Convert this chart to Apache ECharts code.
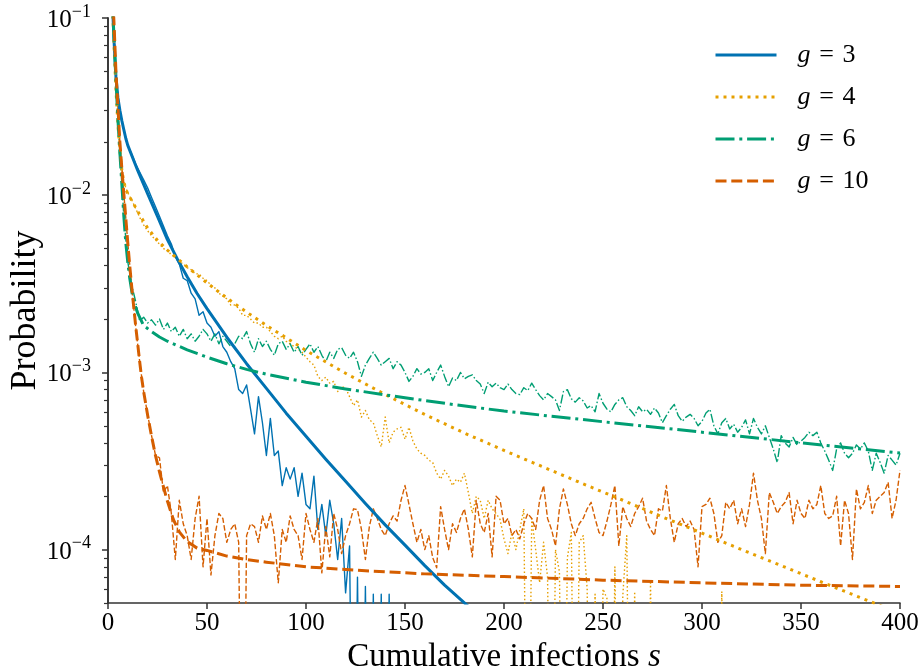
<!DOCTYPE html>
<html><head><meta charset="utf-8">
<script src="https://cdn.jsdelivr.net/npm/echarts@6/dist/echarts.min.js"></script>
<style>html,body{margin:0;padding:0;background:#fff}#chart{width:923px;height:671px}</style>
</head><body><div id="chart"></div>
<script>
// ---------- data ----------
// simulated (noisy) series are sampled at s = 2, 4, 6, ... (zero counts stored as 1e-6, drawn below the axis)
const simStart = 2, simStep = 2;
const g3Sim = [0.141,0.045,0.030,0.0234,0.019, 0.017,0.015,0.0135,0.0122,0.011, 0.0097,0.0086,0.0076,0.0067,0.0059,
 0.0053,0.0045,0.0041,0.0034,0.0033, 0.0028,0.0026,0.0021,0.0022,0.0019, 0.0018,0.0016,0.0017,0.0014,0.0013,
 0.00115,0.00105,8.0e-4,7.6e-4,8.5e-4, 6.2e-4,4.5e-4,7.3e-4,5.2e-4,3.4e-4, 5.5e-4,3.4e-4,3.6e-4,2.3e-4,2.9e-4,
 2.5e-4,2.9e-4,2.0e-4,2.7e-4,1.8e-4, 1.7e-4,2.6e-4,1.3e-4,1.8e-4,1.2e-4, 1.9e-4,1.4e-4,8.8e-5,1.5e-4,5.7e-5,
 1.05e-4,1e-6,7.0e-5,1e-6,6.2e-5, 1e-6,5.6e-5,1e-6,5.6e-5,1e-6, 5.6e-5,1e-6];
const g4Sim = [0.141,0.04,0.0174,0.0118,0.0103,0.0094,0.0084,0.0075,0.0068,0.0063,
 0.0059,0.0056,0.0053,0.0050,0.0049,0.0046,0.0045,0.0042,0.0041,0.0039,
 0.0038,0.0036,0.0036,0.0034,0.0033,0.0031,0.0030,0.0028,0.0027,0.0026,
 0.0024,0.0024,0.0023,0.0021,0.0021,0.0020,0.0019,0.0019,0.0018,0.0018,
 0.0017,0.0016,0.00155,0.0016,0.0015,0.00145,0.0014,0.00135,0.0013,0.00122,
 1.15e-3,1.1e-3,9.5e-4,9.0e-4,9.4e-4,8.7e-4,8.9e-4,7.8e-4,8.3e-4,8.2e-4,
 7.3e-4,6.5e-4,7.0e-4,5.6e-4,6.1e-4,5.4e-4,5.2e-4,4.4e-4,3.8e-4,5.6e-4,
 4.0e-4,4.6e-4,4.8e-4,4.9e-4,4.2e-4,4.9e-4,4.1e-4,3.7e-4,3.5e-4,3.4e-4,
 3.2e-4,3.1e-4,2.7e-4,2.5e-4,2.8e-4,2.6e-4,2.3e-4,2.5e-4,2.4e-4,2.7e-4,
 2.1e-4,1.6e-4,2.0e-4,1.9e-4,1.5e-4,1.9e-4,1.7e-4,1.6e-4,1.48e-4,1.15e-4,
 9.5e-5,1.25e-4,1.0e-4,1.3e-4,1.7e-4, 1e-6,1.5e-4,1.0e-4,6.5e-5,1.1e-4,
 7.0e-5,1e-6,1.0e-4,7.5e-5,1e-6, 9.0e-5,1.25e-4,1e-6,1.1e-4,1.2e-4,
 6.0e-5,1e-6,5.6e-5,1e-6,6.0e-5, 5.3e-5,1e-6,8.0e-5,1e-6,5.5e-5,
 1.2e-4,1e-6,5.8e-5,1e-6,1e-6, 1e-6,6.5e-5,1e-6,1e-6,1e-6,
 1e-6,1e-6,1e-6,1e-6,1e-6,1e-6,1e-6,1e-6,1e-6,1e-6,1e-6,1e-6,1e-6,1e-6, 5.8e-5,1e-6];
const g6Sim = [0.141,0.045,0.0174,0.0076,0.0042,
 3.1e-3,2.5e-3,1.95e-3,2.05e-3,1.9e-3,1.98e-3,1.85e-3,2.0e-3,1.75e-3,1.9e-3,
 1.7e-3,1.8e-3,1.6e-3,1.75e-3,1.55e-3,1.65e-3,1.5e-3,1.6e-3,1.75e-3,1.65e-3,
 1.5e-3,1.65e-3,1.45e-3,1.6e-3,1.5e-3,1.4e-3,1.45e-3,1.6e-3,1.55e-3,1.7e-3,
 1.45e-3,1.3e-3,1.55e-3,1.4e-3,1.5e-3,1.35e-3,1.25e-3,1.45e-3,1.5e-3,1.35e-3,
 1.45e-3,1.3e-3,1.4e-3,1.25e-3,1.35e-3,
 1.45e-3,1.3e-3,1.4e-3,1.25e-3,1.15e-3,1.3e-3,1.2e-3,1.35e-3,1.38e-3,1.25e-3,
 1.2e-3,1.3e-3,1.15e-3,9.5e-4,1.1e-3,1.2e-3,1.3e-3,1.2e-3,1.1e-3,1.15e-3,
 1.2e-3,1.05e-3,1.15e-3,1.1e-3,1.0e-3,8.9e-4,9.5e-4,1.05e-3,9.8e-4,1.0e-3,
 1.05e-3,9.0e-4,1.0e-3,1.1e-3,9.5e-4,8.3e-4,9.3e-4,9.0e-4,1.0e-3,9.2e-4,
 9.5e-4,9.7e-4,9.0e-4,8.6e-4,7.6e-4,8.8e-4,8.3e-4,8.7e-4,8.2e-4,8.0e-4,
 8.6e-4,8.0e-4,7.6e-4,7.5e-4,8.2e-4,7.9e-4,8.7e-4,8.0e-4,7.4e-4,7.0e-4,
 7.6e-4,7.3e-4,7.0e-4,6.1e-4,7.8e-4,8.0e-4,7.1e-4,6.8e-4,7.2e-4,6.9e-4,
 6.3e-4,6.5e-4,6.0e-4,7.6e-4,6.7e-4,6.2e-4,6.0e-4,6.6e-4,7.0e-4,7.2e-4,
 6.4e-4,6.1e-4,5.7e-4,6.4e-4,6.0e-4,6.2e-4,5.8e-4,6.3e-4,5.9e-4,5.2e-4,
 5.7e-4,6.2e-4,6.6e-4,5.7e-4,5.3e-4,5.6e-4,5.8e-4,5.5e-4,5.0e-4,5.3e-4,
 5.9e-4,6.2e-4,5.0e-4,4.5e-4,5.2e-4,5.5e-4,4.8e-4,5.1e-4,4.6e-4,4.9e-4,
 5.4e-4,4.5e-4,5.5e-4,4.9e-4,4.5e-4,5.0e-4,4.3e-4,3.7e-4,3.1e-4,4.4e-4,
 4.0e-4,3.8e-4,4.3e-4,3.9e-4,4.1e-4,4.3e-4,4.6e-4,4.4e-4,4.6e-4,4.0e-4,
 3.6e-4,3.2e-4,2.8e-4,3.7e-4,4.0e-4,3.5e-4,3.3e-4,3.5e-4,3.9e-4,3.7e-4,
 4.0e-4,3.6e-4,2.8e-4,3.5e-4,3.1e-4,2.7e-4,3.4e-4,3.2e-4,3.0e-4,3.5e-4];
const g10Sim = [0.158,0.05,0.02,0.0102,0.0054,0.0030,0.0018,0.00115,7.8e-4,5.8e-4,4.4e-4,3.4e-4,
 3.3e-4,2.1e-4,2.3e-4,1.6e-4,8.8e-5,1.9e-4,1.4e-4,1.2e-4,8.8e-5,1.5e-4,
 2.0e-4,8.0e-5,1.5e-4,7.2e-5,1.2e-4,1.6e-4,1.5e-4,1.1e-4,1.3e-4,1.4e-4,
 1.1e-4,1e-6,1.2e-4,1.4e-4,1.35e-4,1.1e-4,1.55e-4,1.3e-4,1.6e-4,1.2e-4,
 6.5e-5,1.3e-4,1.1e-4,1.55e-4,1.3e-4,1.2e-4,8.8e-5,1.6e-4,
 1.3e-4,1.1e-4,1.5e-4,7.4e-5,1.35e-4,9.1e-5,1.6e-4,1.3e-4,9.5e-5,1.2e-4,
 1.4e-4,1.7e-4,1.68e-4,1.3e-4,8.8e-5,1.35e-4,1.7e-4,1.5e-4,1.3e-4,1.2e-4,
 1.4e-4,1.55e-4,1.45e-4,1.9e-4,2.3e-4,1.8e-4,1.4e-4,1.1e-4,1.3e-4,1.0e-4,
 1.2e-4,9.0e-5,7.9e-5,1.75e-4,1.3e-4,1.0e-4,1.4e-4,1.25e-4,1.5e-4,1.7e-4,
 1.3e-4,9.1e-5,1.9e-4,1.4e-4,1.25e-4,1.6e-4,9.1e-5,2.0e-4,1.9e-4,1.4e-4,
 1.5e-4,1.2e-4,1.3e-4,1.15e-4,1.4e-4,1.6e-4,1.5e-4,1.3e-4,1.9e-4,2.3e-4,
 1.5e-4,1.3e-4,1.05e-4,1.7e-4,2.2e-4,1.8e-4,1.4e-4,1.2e-4,1.4e-4,1.5e-4,
 1.7e-4,1.85e-4,1.5e-4,1.25e-4,1.2e-4,1.45e-4,1.8e-4,2.3e-4,1.05e-4,1.75e-4,
 1.5e-4,1.35e-4,1.6e-4,1.75e-4,1.95e-4,1.45e-4,1.3e-4,1.2e-4,1.7e-4,1.65e-4,
 2.3e-4,1.5e-4,1.1e-4,1.4e-4,1.5e-4,1.35e-4,1.45e-4,1.3e-4,8.0e-5,1.75e-4,
 1.8e-4,1.95e-4,1.6e-4,1.1e-4,1.2e-4,1.85e-4,1.7e-4,1.9e-4,1.4e-4,1.7e-4,
 1.35e-4,1.8e-4,2.7e-4,1.9e-4,1.5e-4,9.5e-5,2.1e-4,1.85e-4,1.6e-4,1.75e-4,
 1.85e-4,2.1e-4,1.4e-4,1.9e-4,1.6e-4,1.5e-4,1.9e-4,1.7e-4,1.8e-4,2.3e-4,
 1.6e-4,1.5e-4,1.55e-4,2.0e-4,1.05e-4,1.9e-4,1.6e-4,8.8e-5,2.2e-4,1.7e-4,
 1.85e-4,2.3e-4,1.6e-4,1.9e-4,2.0e-4,2.1e-4,2.4e-4,1.5e-4,1.9e-4,2.8e-4];

// theory curves
const g3TheoryS = [2,3,4,5,6,7,8,9,10,15,20,25,30,35,40,45,50,60,70,80,90,100,110,120,130,140,150,160,170,180,190];
const g3Theory  = [0.141,0.0759,0.0468,0.0355,0.0302,0.0263,0.0234,0.0209,0.0191,0.0138,0.0102,0.00759,0.00562,0.00437,0.00347,0.00279,0.00229,0.00158,0.00112,8.13e-4,5.89e-4,4.37e-4,3.24e-4,2.43e-4,1.82e-4,1.38e-4,1.06e-4,8.13e-5,6.31e-5,5.01e-5,3.98e-5];
const g4TheoryS = [2,3,4,5,6,7,8,9,10,13,16,20,25,30,40,50,60,70,80,90,100,120,140,160,180,200,220,240,260,280,300,320,340,360,380,400];
const g4Theory  = [0.141,0.0708,0.0398,0.0251,0.0178,0.0138,0.0119,0.0108,0.0102,0.00891,0.00776,0.00653,0.00556,0.0049,0.00394,0.0032,0.00263,0.00219,0.00184,0.00157,0.00133,9.89e-4,7.5e-4,5.79e-4,4.55e-4,3.63e-4,2.92e-4,2.35e-4,1.9e-4,1.53e-4,1.24e-4,1.0e-4,8.13e-5,6.59e-5,5.36e-5,4.37e-5];
const g6TheoryS = [2,3,4,5,6,7,8,9,10,11,12,13,15,18,22,26,30,40,50,60,70,80,100,120,150,175,200,250,300,350,400];
const g6Theory  = [0.141,0.0794,0.0447,0.0269,0.0174,0.0115,0.0076,0.00537,0.00417,0.00339,0.00288,0.00251,0.00216,0.00184,0.0017,0.001585,0.0015,0.00134,0.00122,0.00112,0.00104,9.77e-4,8.81e-4,8.07e-4,7.19e-4,6.58e-4,6.05e-4,5.27e-4,4.6e-4,4.01e-4,3.51e-4];
const g10TheoryS = [2,3,4,5,6,7,8,9,10,11,12,13,14,15,16,17,18,20,22,24,26,28,30,33,36,40,45,50,60,70,80,100,130,160,200,250,300,350,400];
const g10Theory  = [0.158,0.0955,0.0501,0.0316,0.02,0.0141,0.0102,0.0074,0.00537,0.00398,0.00302,0.00234,0.00182,0.00145,0.00115,9.3e-4,7.8e-4,5.75e-4,4.37e-4,3.39e-4,2.75e-4,2.26e-4,1.88e-4,1.48e-4,1.26e-4,1.11e-4,1.02e-4,9.9e-5,9.2e-5,8.8e-5,8.5e-5,8.0e-5,7.6e-5,7.3e-5,7.05e-5,6.73e-5,6.5e-5,6.3e-5,6.2e-5];

const legendNames = ['g = 3','g = 4','g = 6','g = 10'];
const yMajorTicks = [1e-4,1e-3,1e-2,1e-1];

// ---------- chart ----------
const FONT = '"Liberation Serif","DejaVu Serif",serif';
const C3='#0072B2', C4='#E69F00', C6='#009E73', C10='#D55E00';
const yMinorTicks = [];
for (let k=-5;k<=-2;k++) for (let m=2;m<=9;m++){ const v=parseFloat(m+'e'+k); if(v>=5e-5 && v<=0.1) yMinorTicks.push(v); }

const simPairs = arr => arr.map((v,i)=>[simStart+simStep*i, v]);
const pairs = (xs,ys) => xs.map((x,i)=>[x, ys[i]]);

function line(name, data, color, width, dash, z){
  return {name, type:'line', data, symbol:'none', showSymbol:false, clip:true, silent:true, z,
    lineStyle:{color, width, type:dash, cap:'butt', join:'round'}, itemStyle:{color},
    emphasis:{disabled:true}};
}
const TW=3, tw=1.4;
const series = [
  line('sim3', simPairs(g3Sim), C3, tw, 'solid', 2),
  line('sim4', simPairs(g4Sim), C4, tw, [1.5,2.4], 2),
  line('sim6', simPairs(g6Sim), C6, tw, [9,2.3,1.5,2.3], 2),
  line('sim10', simPairs(g10Sim), C10, tw, [5.4,2.3], 2),
  line(legendNames[0], pairs(g3TheoryS,g3Theory), C3, TW, 'solid', 3),
  line(legendNames[1], pairs(g4TheoryS,g4Theory), C4, TW, [3,5], 3),
  line(legendNames[2], pairs(g6TheoryS,g6Theory), C6, TW, [19,4.8,3,4.8], 3),
  line(legendNames[3], pairs(g10TheoryS,g10Theory), C10, TW, [11,4.8], 3)
];

const axisLineStyle = {color:'#333', width:1.6};
const option = {
  animation:false,
  backgroundColor:'#fff',
  textStyle:{fontFamily:FONT},
  grid:{left:108, right:23, top:18, bottom:68, containLabel:false, outerBoundsMode:'none'},
  legend:{
    orient:'vertical', left:714, top:40, padding:0, itemWidth:61, itemHeight:30, itemGap:12,
    data:legendNames, selectedMode:false,
    itemStyle:{opacity:0},
    lineStyle:{width:3, opacity:1},
    formatter: n => '{i|g}' + n.slice(1).replace(/ /g,'\u2004'),
    textStyle:{fontFamily:FONT, fontSize:26, color:'#000', lineHeight:30, padding:[0,0,0,16],
      rich:{i:{fontStyle:'italic', fontFamily:FONT, fontSize:26, color:'#000'}}}
  },
  xAxis:{
    type:'value', min:0, max:400, interval:50,
    name:'{t|Cumulative infections }{i|s}', nameLocation:'middle', nameGap:35,
    nameTextStyle:{fontFamily:FONT, fontSize:33, color:'#000',
      rich:{t:{fontFamily:FONT, fontSize:33, color:'#000'}, i:{fontFamily:FONT, fontSize:33, fontStyle:'italic', color:'#000'}}},
    axisLine:{show:true, lineStyle:axisLineStyle},
    axisTick:{show:true, inside:false, length:6, lineStyle:{color:'#333', width:1.5}},
    axisLabel:{fontFamily:FONT, fontSize:25, color:'#000', margin:8, showMinLabel:true, showMaxLabel:true},
    splitLine:{show:false}
  },
  yAxis:[{
    type:'log', logBase:10, min:5e-5, max:0.1, position:'left',
    name:'Probability', nameLocation:'middle', nameGap:64, nameRotate:90, nameMoveOverlap:false,
    nameTextStyle:{fontFamily:FONT, fontSize:36, color:'#000'},
    axisLine:{show:true, lineStyle:axisLineStyle},
    axisTick:{show:true, inside:false, length:6, lineStyle:{color:'#333', width:1.5}, customValues:yMajorTicks},
    axisLabel:{customValues:yMajorTicks, margin:17, color:'#000',
      formatter: v => { const e = Math.round(Math.log10(v)); return '{b|10}{e|\u2212' + (-e) + '}'; },
      rich:{b:{fontFamily:FONT, fontSize:25, color:'#000', verticalAlign:'bottom', lineHeight:30},
            e:{fontFamily:FONT, fontSize:18, color:'#000', verticalAlign:'top', lineHeight:30}}},
    splitLine:{show:false}
  },{
    type:'log', logBase:10, min:5e-5, max:0.1, position:'left',
    axisLine:{show:true, lineStyle:axisLineStyle},
    axisTick:{show:true, inside:false, length:4, lineStyle:{color:'#333', width:1.2}, customValues:yMinorTicks},
    axisLabel:{show:false}, splitLine:{show:false}
  }],
  series
};
const chart = echarts.init(document.getElementById('chart'), null, {renderer:'canvas'});
chart.setOption(option);
</script></body></html>
